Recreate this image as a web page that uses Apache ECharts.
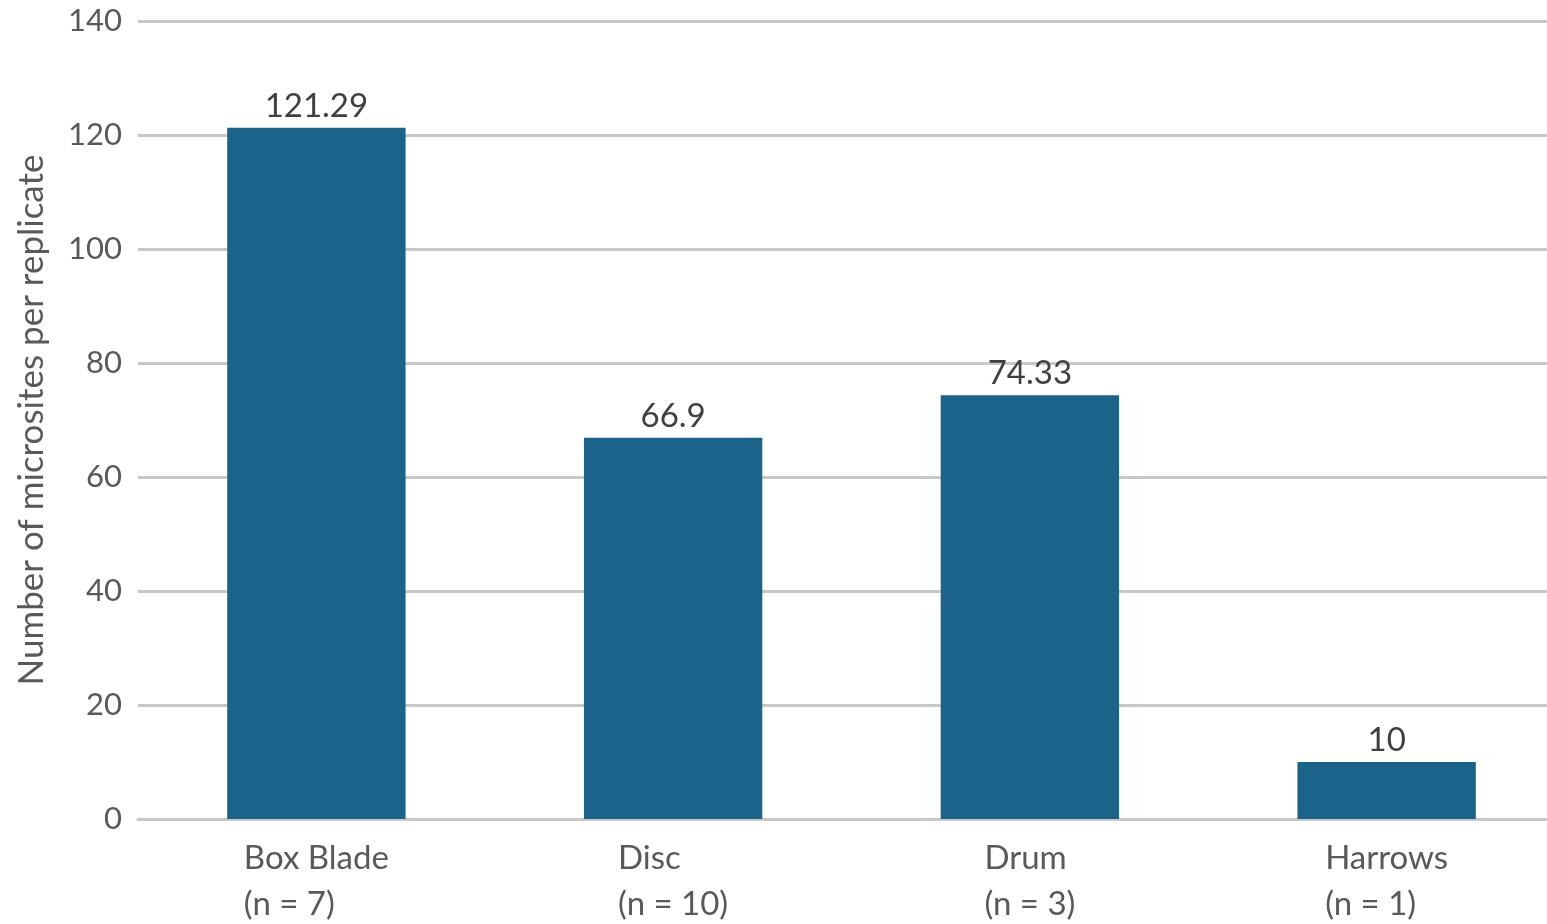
<!DOCTYPE html>
<html><head><meta charset="utf-8">
<script src="https://cdn.jsdelivr.net/npm/echarts@6/dist/echarts.min.js"></script>
<style>html,body{margin:0;padding:0;background:#fff}#c{width:1547px;height:924px}</style>
</head><body><div id="c"></div>
<script>
const categories = ['Box Blade', 'Disc', 'Drum', 'Harrows'];
const sampleSizes = ['(n = 7)', '(n = 10)', '(n = 3)', '(n = 1)'];
const values = [121.29, 66.9, 74.33, 10];
const yAxisTitle = 'Number of microsites per replicate';

const chart = echarts.init(document.getElementById('c'));
chart.setOption({
  animation: false,
  grid: { left: 138, width: 1427, top: 21, bottom: 105, outerBoundsMode: 'none' },
  xAxis: {
    type: 'category',
    data: categories.map((c, i) => c + '\n' + sampleSizes[i]),
    axisLine: { show: true, lineStyle: { color: '#c8c8c8', width: 3 } },
    axisTick: { show: false },
    axisLabel: {
      margin: 16,
      formatter: v => v.split('\n').map(s => '{a|' + s + '}').join('\n'),
      rich: { a: { fontFamily: 'Lato', fontSize: 33, color: '#595959', align: 'left', lineHeight: 46 } }
    }
  },
  yAxis: {
    type: 'value', min: 0, max: 140, interval: 20,
    name: yAxisTitle, nameLocation: 'middle', nameGap: 89,
    nameTextStyle: { fontFamily: 'Lato', fontSize: 35, color: '#595959' },
    axisLine: { show: false }, axisTick: { show: false },
    axisLabel: { margin: 16, fontFamily: 'Lato', fontSize: 31, color: '#595959' },
    splitLine: { lineStyle: { color: '#c8c8c8', width: 3 } }
  },
  series: [{
    type: 'bar', data: values, barWidth: '50%',
    itemStyle: { color: '#1b6389' },
    label: { show: true, position: 'top', distance: 5, fontFamily: 'Lato', fontSize: 33, color: '#404040' }
  }]
});
</script></body></html>
